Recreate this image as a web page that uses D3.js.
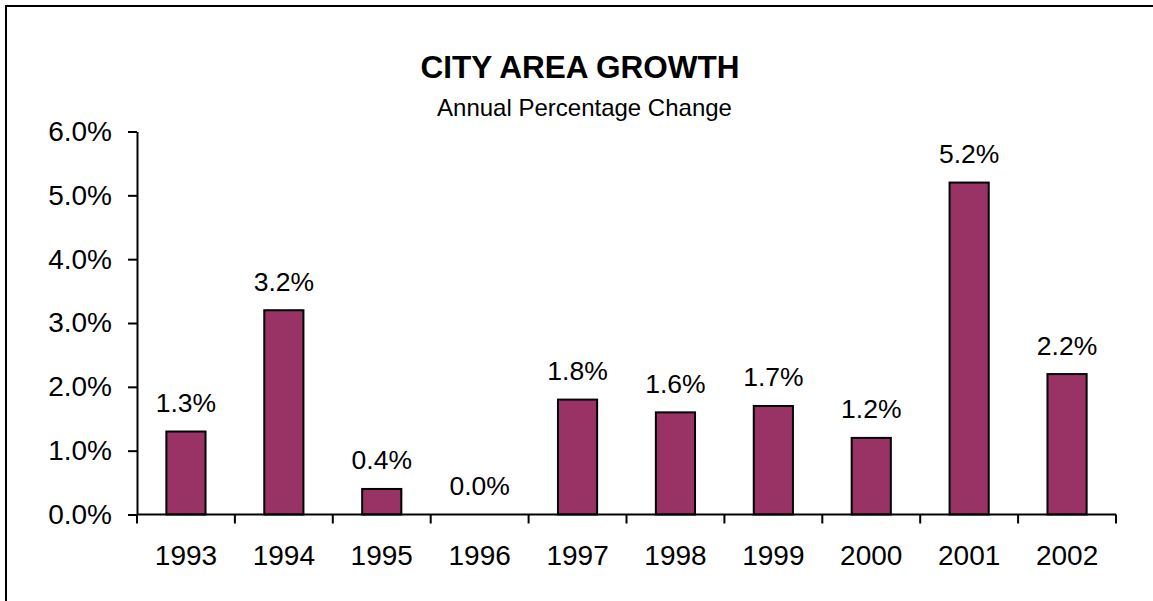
<!DOCTYPE html>
<html>
<head>
<meta charset="utf-8">
<script src="https://cdn.jsdelivr.net/npm/d3@7"></script>
<style>
  html, body { margin: 0; padding: 0; background: #fff; }
  svg { display: block; }
  text { font-family: "Liberation Sans", Arial, sans-serif; fill: #000; }
</style>
</head>
<body>
<svg id="chart" width="1153" height="601"></svg>
<script>
const categories = ["1993", "1994", "1995", "1996", "1997", "1998", "1999", "2000", "2001", "2002"];
const values = [1.3, 3.2, 0.4, 0.0, 1.8, 1.6, 1.7, 1.2, 5.2, 2.2];
const yTicks = [0, 1, 2, 3, 4, 5, 6];
const titleText = "CITY AREA GROWTH";
const subtitleText = "Annual Percentage Change";

const svg = d3.select("#chart");

// outer frame (extends beyond the right and bottom edges)
svg.append("rect")
  .attr("x", 6).attr("y", 6)
  .attr("width", 1200).attr("height", 650)
  .attr("fill", "none").attr("stroke", "#000").attr("stroke-width", 2);

const plotLeft = 137, plotRight = 1116, plotTop = 131.5, plotBottom = 514.5;

const x = d3.scaleBand().domain(categories).range([plotLeft, plotRight]).padding(0);
const y = d3.scaleLinear().domain([0, 6]).range([plotBottom, plotTop]);

const fmt = d => d3.format(".1f")(d) + "%";

// title
svg.append("text")
  .attr("x", 580).attr("y", 77.5)
  .attr("text-anchor", "middle")
  .attr("font-size", 31.5).attr("font-weight", "bold")
  .text(titleText);
svg.append("text")
  .attr("x", 584.5).attr("y", 115.5)
  .attr("text-anchor", "middle")
  .attr("font-size", 24)
  .text(subtitleText);

// bars
const barW = x.bandwidth() * 0.4;
svg.append("g").selectAll("rect")
  .data(values)
  .join("rect")
  .attr("x", (d, i) => x(categories[i]) + (x.bandwidth() - barW) / 2)
  .attr("y", d => y(d))
  .attr("width", barW)
  .attr("height", d => y(0) - y(d))
  .attr("fill", "#993366")
  .attr("stroke", "#000")
  .attr("stroke-width", 2);

// data labels
svg.append("g").selectAll("text")
  .data(values)
  .join("text")
  .attr("x", (d, i) => x(categories[i]) + x.bandwidth() / 2)
  .attr("y", d => y(d) - 19.5)
  .attr("text-anchor", "middle")
  .attr("font-size", 26.5)
  .text(d => fmt(d));

// y axis
const yAxis = svg.append("g")
  .attr("transform", `translate(${plotLeft},0)`)
  .call(d3.axisLeft(y).tickValues(yTicks).tickFormat(fmt).tickSize(9).tickSizeOuter(0).tickPadding(16));
yAxis.select(".domain").attr("stroke", "#000").attr("stroke-width", 2);
yAxis.selectAll(".tick line").attr("stroke", "#000").attr("stroke-width", 2);
yAxis.selectAll(".tick text")
  .attr("font-size", 28)
  .attr("font-family", "Liberation Sans, Arial, sans-serif")
  .attr("fill", "#000");

// x axis: labels centred in bands, ticks at band boundaries
const xAxis = svg.append("g")
  .attr("transform", `translate(0,${plotBottom})`)
  .call(d3.axisBottom(x).tickSize(0).tickPadding(31));
xAxis.select(".domain").remove();
xAxis.selectAll(".tick text")
  .attr("font-size", 28)
  .attr("font-family", "Liberation Sans, Arial, sans-serif")
  .attr("fill", "#000");

const boundaries = categories.map(c => x(c)).concat([x.range()[1]]);
svg.append("line")
  .attr("x1", plotLeft).attr("x2", plotRight)
  .attr("y1", plotBottom).attr("y2", plotBottom)
  .attr("stroke", "#000").attr("stroke-width", 2);
svg.append("g").selectAll("line")
  .data(boundaries)
  .join("line")
  .attr("x1", d => d).attr("x2", d => d)
  .attr("y1", plotBottom).attr("y2", plotBottom + 9)
  .attr("stroke", "#000").attr("stroke-width", 2);
</script>
</body>
</html>
